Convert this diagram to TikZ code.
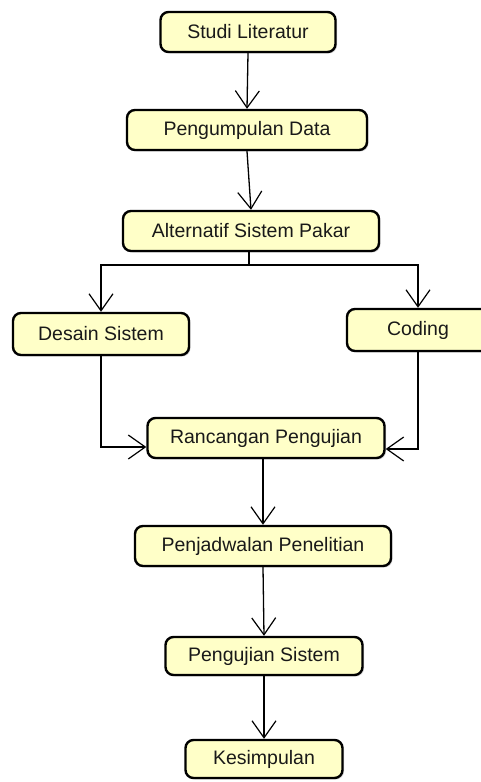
\documentclass[tikz,border=0pt]{standalone}
\usepackage{fontspec}
\setmainfont{Liberation Sans}
\usetikzlibrary{arrows.meta,shadows}

\begin{document}
\begin{tikzpicture}[x=1pt, y=-1pt,
		tahap/.style={draw, line width=2.4pt, rounded corners=8pt, fill={rgb,255:red,255;green,255;blue,200},
			drop shadow={shadow xshift=1.5pt, shadow yshift=-1.5pt, opacity=0.3},
			font=\fontsize{19.5}{22}\selectfont, text=black!90, inner sep=0pt},
		alur/.style={line width=1.3pt, -{Straight Barb[length=17pt, width=24pt, line width=1.2pt]}}]
				\useasboundingbox (0,0) rectangle (481,782);
				\node[tahap, minimum width=175, minimum height=40] (studi)at(248, 32) {Studi Literatur};
				\node[tahap, minimum width=240, minimum height=40] (kumpul)at(247, 130) {Pengumpulan Data};
				\node[tahap, minimum width=256, minimum height=40] (alt)at(251, 231) {Alternatif Sistem Pakar};
				\node[tahap, minimum width=176, minimum height=42] (desain)at(101, 334) {Desain Sistem};
				\node[tahap, minimum width=142, minimum height=42] (coding)at(418, 330) {Coding};
				\node[tahap, minimum width=237, minimum height=40] (ranc)at(266, 438) {Rancangan Pengujian};
				\node[tahap, minimum width=256, minimum height=40] (jadwal)at(263, 546) {Penjadwalan Penelitian};
				\node[tahap, minimum width=197, minimum height=38] (uji)at(264, 656) {Pengujian Sistem};
				\node[tahap, minimum width=157, minimum height=38] (simpul)at(264, 759) {Kesimpulan};
				\coordinate (cabang) at (249, 265);
				\draw[alur] (studi.south) -- (kumpul.north);
				\draw[alur] (kumpul.south) -- (alt.north);
				\draw[line width=1.3pt] (cabang |- alt.south) -- (cabang);
				\draw[alur] (cabang) -| (desain.north);
				\draw[alur] (cabang) -| (coding.north);
				\draw[alur] (desain.south) |- ([yshift=-9]ranc.west);
				\draw[alur] (coding.south) |- ([yshift=-11]ranc.east);
				\draw[alur] ([xshift=-3]ranc.south) -- (jadwal.north);
				\draw[alur] (jadwal.south) -- (uji.north);
				\draw[alur] (uji.south) -- (simpul.north);
			\end{tikzpicture}
\end{document}
